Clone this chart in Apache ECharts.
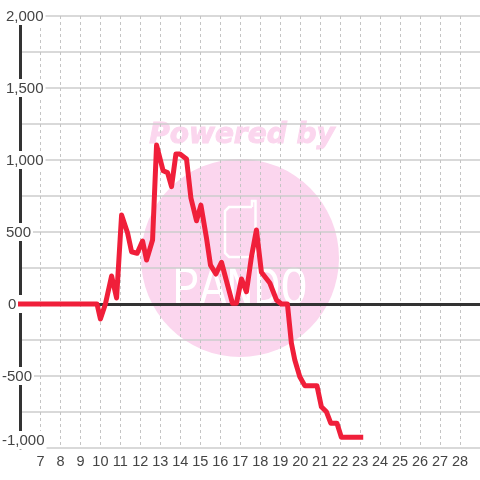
<!DOCTYPE html>
<html><head><meta charset="utf-8">
<style>html,body{margin:0;padding:0;background:#fff}#c{width:480px;height:480px}</style>
<script src="https://cdn.jsdelivr.net/npm/echarts@6/dist/echarts.min.js"></script>
</head><body><div id="c"></div>
<script>
const hours=[6,9.83,10,10.25,10.56,10.81,11.06,11.36,11.56,11.84,12.11,12.31,12.61,12.81,13.14,13.36,13.56,13.78,13.98,14.31,14.53,14.81,15.03,15.31,15.51,15.78,16.06,16.61,16.81,17.06,17.31,17.56,17.81,18.06,18.48,18.81,19.06,19.36,19.56,19.73,19.98,20.23,20.84,21.06,21.31,21.53,21.84,22.06,23.03];
const values=[0,0,-104,0,194,42,618,493,363,352,437,305,444,1104,925,912,815,1042,1042,1007,736,578,687,458,270,208,290,5,5,174,85,328,514,220,146,28,0,0,-273,-389,-505,-567,-567,-713,-748,-828,-828,-926,-926];
const xLabels=[7,8,9,10,11,12,13,14,15,16,17,18,19,20,21,22,23,24,25,26,27,28];
const watermarkTop='Powered by';
const watermarkBottom='PANDO';
const fmt=v=>{const s=Math.abs(v).toLocaleString('en-US');return v<0?'-'+s:s;};
const labelBase={fontSize:15,color:'#444',fontFamily:'Liberation Sans',backgroundColor:'#fff',height:16,lineHeight:16};
const chart=echarts.init(document.getElementById('c'),null,{renderer:'canvas'});
chart.setOption({
 animation:false,
 backgroundColor:'#fff',
 textStyle:{fontFamily:'Liberation Sans'},
 grid:{left:20.5,right:0,top:16,bottom:32,containLabel:false,outerBoundsMode:'none'},
 graphic:[
  {type:'circle',z:-10,silent:true,shape:{cx:240,cy:258,r:99},style:{fill:'#fbd6ee'}},
  {type:'text',z:-9,silent:true,x:242,y:136,style:{text:watermarkTop,fill:'#fbd6ee',stroke:'#fbd6ee',lineWidth:1,font:'italic bold 28px "DejaVu Sans"',align:'center',verticalAlign:'middle'}},
  {type:'polyline',z:-9,silent:true,shape:{points:[[252,207],[229,207],[225,211],[225,253],[229,257],[252,257],[255.5,253],[255.5,201],[252,201],[252,207]]},style:{fill:'none',stroke:'#fff',lineWidth:2.5}},
  {type:'text',z:-9,silent:true,x:240,y:289.5,scaleY:1.2,style:{text:watermarkBottom,fill:'#fff',font:'45px "Liberation Mono"',align:'center',verticalAlign:'middle'}}
 ],
 xAxis:{type:'value',min:6,max:29,interval:1,position:'bottom',
   axisLine:{show:false},axisTick:{show:false},
   axisLabel:{show:true,margin:6,fontSize:14.5,color:'#444',fontFamily:'Liberation Sans',showMinLabel:false,showMaxLabel:false,
     formatter:v=>xLabels.includes(v)?String(v):''},
   splitLine:{show:true,lineStyle:{color:'#c4c4c4',width:1,type:[3,3]}}},
 yAxis:{type:'value',min:-1000,max:2000,interval:250,
  axisLine:{show:true,onZero:false,lineStyle:{color:'#333',width:3}},axisTick:{show:false},
  splitLine:{show:true,lineStyle:{color:'#cccccc',width:1.5}},
  axisLabel:{show:true,margin:18.5,align:'left',fontSize:15,color:'#444',fontFamily:'Liberation Sans',
    verticalAlignMinLabel:'bottom',hideOverlap:false,
    rich:{
      neg:{...labelBase,padding:[2,2,0,0]},
      pos:{...labelBase,padding:[2,2,0,4]},
      zero:{...labelBase,padding:[2,7,0,6]}
    },
    formatter:v=>{ if(v%500!==0) return ''; const k=v<0?'neg':(v===0?'zero':'pos'); return '{'+k+'|'+fmt(v)+'}'; }}},
 series:[{type:'line',data:hours.map((h,i)=>[h,values[i]]),showSymbol:false,symbol:'none',smooth:false,z:5,
   lineStyle:{color:'#f01f3a',width:5,cap:'square',join:'round'},
   markLine:{silent:true,symbol:'none',z:1,label:{show:false},animation:false,
     lineStyle:{color:'#333',width:3,type:'solid'},data:[{yAxis:0}]}}]
});
</script></body></html>
